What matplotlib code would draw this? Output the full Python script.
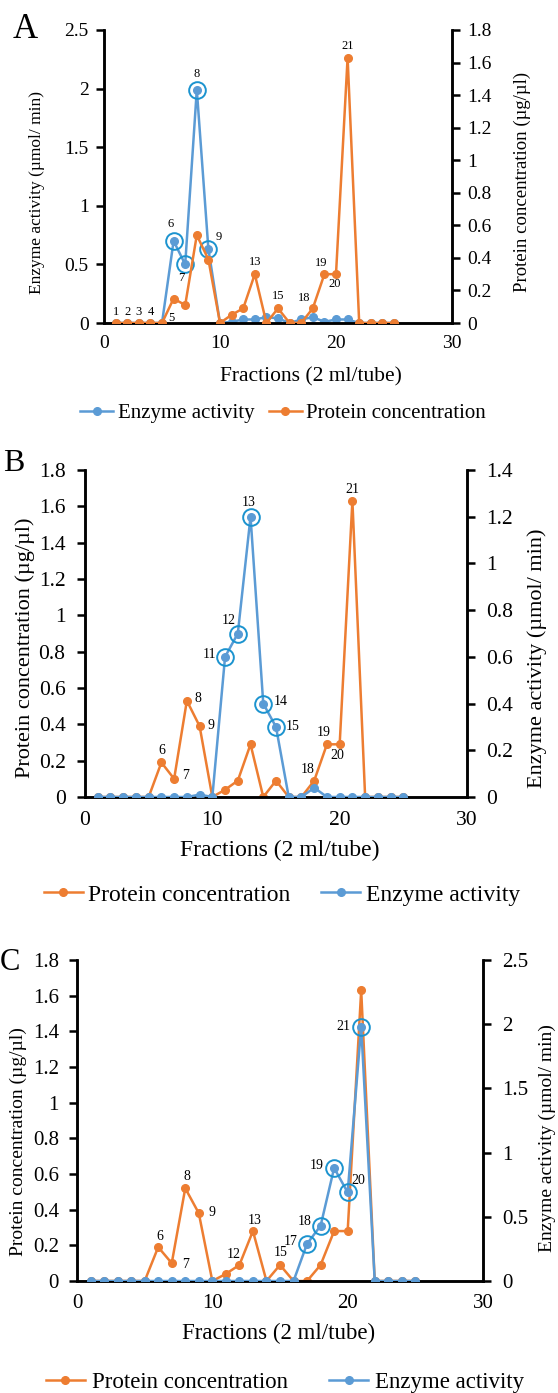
import matplotlib
import matplotlib.pyplot as plt

matplotlib.rc('font', family=['Liberation Serif', 'DejaVu Serif'])

fractions = list(range(1, 26))

# panel A
enzyme_a = [0, 0, 0, 0, 0, 0.70, 0.50, 1.99, 0.63, 0, 0.01, 0.03, 0.03, 0.05, 0.04,
            0, 0.03, 0.05, 0.01, 0.03, 0.03, 0, 0, 0, 0]
protein_a = [0, 0, 0, 0, 0, 0.15, 0.11, 0.54, 0.39, 0, 0.05, 0.09, 0.30, 0, 0.09,
             0, 0, 0.09, 0.30, 0.30, 1.63, 0, 0, 0, 0]

# panel B
protein_b = [0, 0, 0, 0, 0, 0.19, 0.10, 0.53, 0.39, 0, 0.04, 0.09, 0.29, 0, 0.09,
             0, 0, 0.09, 0.29, 0.29, 1.63, 0, 0, 0, 0]
enzyme_b = [0, 0, 0, 0, 0, 0, 0, 0, 0.01, 0, 0.60, 0.70, 1.20, 0.40, 0.30,
            0, 0, 0.04, 0, 0, 0, 0, 0, 0, 0]

# panel C
protein_c = [0, 0, 0, 0, 0, 0.19, 0.10, 0.52, 0.38, 0, 0.04, 0.09, 0.28, 0, 0.09,
             0, 0, 0.09, 0.28, 0.28, 1.63, 0, 0, 0, 0]
enzyme_c = [0, 0, 0, 0, 0, 0, 0, 0, 0, 0, 0, 0, 0, 0, 0,
            0, 0.29, 0.43, 0.88, 0.69, 1.98, 0, 0, 0, 0]

circled_a = [6, 7, 8, 9]
circled_b = [11, 12, 13, 14, 15]
circled_c = [17, 18, 19, 20, 21]

ticks_18 = [0, 0.2, 0.4, 0.6, 0.8, 1, 1.2, 1.4, 1.6, 1.8]
ticks_14 = [0, 0.2, 0.4, 0.6, 0.8, 1, 1.2, 1.4]
ticks_25 = [0, 0.5, 1, 1.5, 2, 2.5]

# point labels: (fraction, series) -> offset in pixels
labels_a = {(1, 'p'): (0, 11), (2, 'p'): (0, 11), (3, 'p'): (0, 11), (4, 'p'): (0, 11),
            (5, 'p'): (9, 5), (6, 'e'): (-3, 17), (7, 'p'): (-4, 27), (8, 'e'): (0, 16),
            (9, 'e'): (10, 12), (13, 'p'): (0, 12), (15, 'p'): (0, 12), (18, 'p'): (-9, 10),
            (19, 'p'): (-3, 11), (20, 'p'): (-1, -10), (21, 'p'): (0, 12)}
labels_b = {(6, 'p'): (0, 12), (7, 'p'): (11, 3), (8, 'p'): (11, 2), (9, 'p'): (11, 1),
            (11, 'e'): (-16, 2), (12, 'e'): (-9, 13), (13, 'e'): (-2, 14), (14, 'e'): (17, 2),
            (15, 'e'): (17, 0), (18, 'p'): (-7, 11), (19, 'p'): (-3, 12), (20, 'p'): (-2, -11),
            (21, 'p'): (0, 11)}
labels_c = {(6, 'p'): (2, 11), (7, 'p'): (14, -1), (8, 'p'): (2, 12), (9, 'p'): (13, 1),
            (12, 'p'): (-6, 10), (13, 'p'): (2, 11), (15, 'p'): (1, 12), (17, 'e'): (-16, 2),
            (18, 'e'): (-16, 4), (19, 'e'): (-17, 3), (20, 'e'): (11, 12), (21, 'e'): (-18, 0)}

ORANGE = '#ED7D31'
BLUE = '#5B9BD5'
RING = '#1B93CF'
W, H = 558, 1393

fig = plt.figure(figsize=(W / 100, H / 100), dpi=100)


def make_axes(l, r, t, b):
    return fig.add_axes([l / W, 1 - b / H, (r - l) / W, (b - t) / H])


def style(ax, fs, ypad, xpad):
    ax.spines['top'].set_visible(False)
    for s in ['left', 'right', 'bottom']:
        ax.spines[s].set_linewidth(1.8)
    ax.tick_params(axis='y', direction='out', length=6, width=1.8, labelsize=fs, pad=ypad)
    ax.tick_params(axis='x', length=0, labelsize=fs, pad=xpad)


def draw(ax, y, color, z):
    return ax.plot(fractions, y, '-o', color=color, lw=1.8, ms=5.5, zorder=z)[0]


def ring(ax, y, which):
    ys = [y[f - 1] for f in which]
    ax.plot(which, ys, 'o', ms=12, mfc='none', mec=RING, mew=1.4, zorder=5)


def annotate(ax_p, ax_e, prot, enz, labels, fs):
    for (f, s), off in labels.items():
        ax = ax_p if s == 'p' else ax_e
        yv = prot[f - 1] if s == 'p' else enz[f - 1]
        ax.annotate(str(f), (f, yv), xytext=off, textcoords='offset pixels',
                    ha='center', va='center', fontsize=fs, zorder=6)


def ftext(x, y, s, **kw):
    fig.text(x / W, 1 - y / H, s, ha='center', va='center', **kw)


def set_y(ax, lim, ticks):
    ax.set_ylim(0, lim)
    ax.set_yticks(ticks)
    ax.set_yticklabels(['%g' % t for t in ticks])


# ---- A ----
axA = make_axes(104, 452, 30, 323)
axA2 = axA.twinx()
style(axA, 14, 5, 9)
style(axA2, 14, 5, 9)
axA.set_xlim(0, 30)
axA.set_xticks([0, 10, 20, 30])
set_y(axA, 2.5, ticks_25)
set_y(axA2, 1.8, ticks_18)
le = draw(axA, enzyme_a, BLUE, 2)
lp = draw(axA2, protein_a, ORANGE, 3)
ring(axA, enzyme_a, circled_a)
annotate(axA2, axA, protein_a, enzyme_a, labels_a, 9)
ftext(37, 192, 'Enzyme activity (µmol/ min)', fontsize=12.5, rotation=90)
ftext(522, 182, 'Protein concentration (µg/µl)', fontsize=13.5, rotation=90)
ftext(311, 377, 'Fractions (2 ml/tube)', fontsize=15.5)
fig.legend([le, lp], ['Enzyme activity', 'Protein concentration'], loc='center',
           bbox_to_anchor=(283 / W, 1 - 413 / H), ncol=2, frameon=False, fontsize=15,
           handlelength=1.6, columnspacing=0.7, handletextpad=0.2, borderpad=0)
fig.text(25 / W, 1 - 29 / H, 'A', fontsize=25, va='center', ha='center')

# ---- B ----
axB = make_axes(85, 467, 470, 797)
axB2 = axB.twinx()
style(axB, 15.5, 8, 10)
style(axB2, 15.5, 8, 10)
axB.set_xlim(0, 30)
axB.set_xticks([0, 10, 20, 30])
set_y(axB, 1.8, ticks_18)
set_y(axB2, 1.4, ticks_14)
lp = draw(axB, protein_b, ORANGE, 2)
le = draw(axB2, enzyme_b, BLUE, 3)
ring(axB2, enzyme_b, circled_b)
annotate(axB, axB2, protein_b, enzyme_b, labels_b, 10)
ftext(25, 648, 'Protein concentration (µg/µl)', fontsize=16, rotation=90)
ftext(537, 658, 'Enzyme activity (µmol/ min)', fontsize=16, rotation=90)
ftext(280, 850, 'Fractions (2 ml/tube)', fontsize=17)
fig.legend([lp, le], ['Protein concentration', 'Enzyme activity'], loc='center',
           bbox_to_anchor=(282 / W, 1 - 895 / H), ncol=2, frameon=False, fontsize=17,
           handlelength=1.65, columnspacing=1.3, handletextpad=0.25, borderpad=0)
fig.text(14 / W, 1 - 464 / H, 'B', fontsize=23, va='center', ha='center')

# ---- C ----
axC = make_axes(77, 483, 960, 1281)
axC2 = axC.twinx()
style(axC, 15, 7, 9)
style(axC2, 15, 8, 9)
axC.set_xlim(0, 30)
axC.set_xticks([0, 10, 20, 30])
set_y(axC, 1.8, ticks_18)
set_y(axC2, 2.5, ticks_25)
lp = draw(axC, protein_c, ORANGE, 2)
le = draw(axC2, enzyme_c, BLUE, 3)
ring(axC2, enzyme_c, circled_c)
annotate(axC, axC2, protein_c, enzyme_c, labels_c, 10)
ftext(18, 1142, 'Protein concentration (µg/µl)', fontsize=14, rotation=90)
ftext(547, 1138, 'Enzyme activity (µmol/ min)', fontsize=14, rotation=90)
ftext(279, 1333, 'Fractions (2 ml/tube)', fontsize=16.5)
fig.legend([lp, le], ['Protein concentration', 'Enzyme activity'], loc='center',
           bbox_to_anchor=(285 / W, 1 - 1382 / H), ncol=2, frameon=False, fontsize=16.5,
           handlelength=1.7, columnspacing=1.8, handletextpad=0.3, borderpad=0)
fig.text(0, 1 - 962 / H, 'C', fontsize=22, va='center', ha='left')

fig.savefig('out.png', dpi=100)
